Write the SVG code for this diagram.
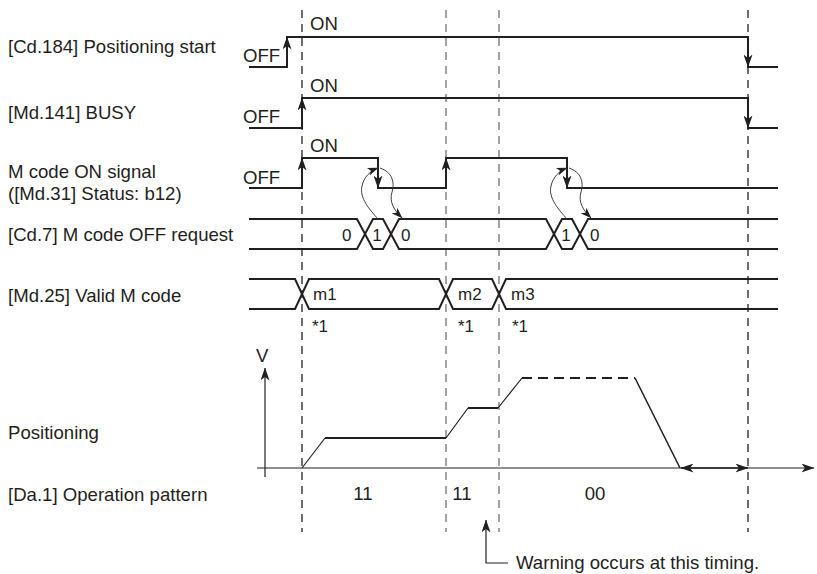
<svg xmlns="http://www.w3.org/2000/svg" width="817" height="574" viewBox="0 0 817 574">
<style>
text { font-family: "Liberation Sans", Arial, Helvetica, sans-serif; font-size: 18.6px; fill: #231f20; }
.sm { font-size: 17px; }
.mid { text-anchor: middle; }
.sig { fill: none; stroke: #231f20; stroke-width: 2; stroke-linejoin: miter; }
.edge { fill: none; stroke: #231f20; stroke-width: 2; }
.thin { fill: none; stroke: #231f20; stroke-width: 1.2; }
.thick { fill: none; stroke: #231f20; stroke-width: 2; }
.dash { fill: none; stroke: #231f20; stroke-width: 2; stroke-dasharray: 10 6; }
.curve { fill: none; stroke: #3c3c3c; stroke-width: 1; }
.dk { fill: none; stroke: #231f20; stroke-width: 1.3; stroke-dasharray: 8 6; }
.gr { fill: none; stroke: #8c8c8c; stroke-width: 1.6; stroke-dasharray: 8 6; }
</style>
<defs>
<marker id="ah" viewBox="0 0 13 9" refX="12.5" refY="4.5" markerWidth="13" markerHeight="9" markerUnits="userSpaceOnUse" orient="auto">
<path d="M0,0 L13,4.5 L0,9 L3.5,4.5 z" fill="#231f20"/>
</marker>
<marker id="ahs" viewBox="0 0 11 8" refX="10.5" refY="4" markerWidth="11" markerHeight="8" markerUnits="userSpaceOnUse" orient="auto">
<path d="M0,0 L11,4 L0,8 L3,4 z" fill="#231f20"/>
</marker>
</defs>
<rect width="817" height="574" fill="#ffffff"/>

<g id="timing-lines">
<line class="dk" x1="302" y1="10" x2="302" y2="532"/>
<line class="gr" x1="446" y1="10" x2="446" y2="532"/>
<line class="gr" x1="499" y1="10" x2="499" y2="532"/>
<line class="dk" x1="748" y1="10" x2="748" y2="532"/>
</g>

<g id="labels">
<text x="8" y="53">[Cd.184] Positioning start</text>
<text x="8" y="119">[Md.141] BUSY</text>
<text x="8" y="178">M code ON signal</text>
<text x="8" y="200">([Md.31] Status: b12)</text>
<text x="8" y="241">[Cd.7] M code OFF request</text>
<text x="8" y="302">[Md.25] Valid M code</text>
<text x="8" y="439">Positioning</text>
<text x="8" y="501">[Da.1] Operation pattern</text>
</g>

<g id="sig-cd184">
<polyline class="sig" points="249,67 287,67 287,37 748,37 748,67 778,67"/>
<line class="edge" x1="287" y1="67" x2="287" y2="37" marker-end="url(#ah)"/>
<line class="edge" x1="748" y1="37" x2="748" y2="67" marker-end="url(#ah)"/>
<text x="310" y="30">ON</text>
<text x="243" y="62">OFF</text>
</g>

<g id="sig-md141">
<polyline class="sig" points="249,128 302,128 302,98 748,98 748,128 778,128"/>
<line class="edge" x1="302" y1="128" x2="302" y2="98" marker-end="url(#ah)"/>
<line class="edge" x1="748" y1="98" x2="748" y2="128" marker-end="url(#ah)"/>
<text x="310" y="92">ON</text>
<text x="243" y="123">OFF</text>
</g>

<g id="sig-mcode-on">
<polyline class="sig" points="249,188 302,188 302,158 378,158 378,188 446,188 446,158 567,158 567,188 778,188"/>
<line class="edge" x1="302" y1="188" x2="302" y2="158" marker-end="url(#ah)"/>
<line class="edge" x1="378" y1="158" x2="378" y2="188" marker-end="url(#ah)"/>
<line class="edge" x1="446" y1="188" x2="446" y2="158" marker-end="url(#ah)"/>
<line class="edge" x1="567" y1="158" x2="567" y2="188" marker-end="url(#ah)"/>
<text x="310" y="152">ON</text>
<text x="243" y="184">OFF</text>
</g>

<g id="sig-cd7">
<polyline class="sig" points="249,219 357,219 373,249 383,249 399,219 546,219 562,249 572,249 588,219 778,219"/>
<polyline class="sig" points="249,249 357,249 373,219 383,219 399,249 546,249 562,219 572,219 588,249 778,249"/>
<text class="sm" x="342" y="241">0</text>
<text class="sm mid" x="377" y="241">1</text>
<text class="sm" x="401" y="241">0</text>
<text class="sm mid" x="566" y="241">1</text>
<text class="sm" x="590" y="241">0</text>
</g>

<g id="sig-md25">
<polyline class="sig" points="249,279 295,279 309,309 439,309 453,279 492,279 506,309 778,309"/>
<polyline class="sig" points="249,309 295,309 309,279 439,279 453,309 492,309 506,279 778,279"/>
<text class="sm" x="313" y="300">m1</text>
<text class="sm" x="458" y="300">m2</text>
<text class="sm" x="511" y="300">m3</text>
<text class="sm" x="312" y="332">*1</text>
<text class="sm" x="458" y="332">*1</text>
<text class="sm" x="512" y="332">*1</text>
</g>

<g id="connectors">
<path class="curve" d="M378,219 C370,210 359,198 362,186 C364,177 370,171 378,168" marker-end="url(#ahs)"/>
<path class="curve" d="M380,168 C392,172 395,182 392,192 C389,202 394,210 402,218" marker-end="url(#ahs)"/>
<g transform="translate(189,0)">
<path class="curve" d="M378,219 C370,210 359,198 362,186 C364,177 370,171 378,168" marker-end="url(#ahs)"/>
<path class="curve" d="M380,168 C392,172 395,182 392,192 C389,202 394,210 402,218" marker-end="url(#ahs)"/>
</g>
</g>

<g id="positioning-graph">
<line class="thin" x1="265" y1="477" x2="265" y2="368" marker-end="url(#ah)"/>
<text x="256" y="362">V</text>
<line class="thin" x1="257" y1="468" x2="814" y2="468" marker-end="url(#ah)"/>
<line class="thin" x1="748" y1="468" x2="681" y2="468" marker-end="url(#ah)"/>
<line class="thin" x1="681" y1="468" x2="748" y2="468" marker-end="url(#ah)"/>
<line class="thin" x1="302" y1="468" x2="325" y2="438"/>
<line class="thick" x1="325" y1="438" x2="446" y2="438"/>
<line class="thin" x1="446" y1="438" x2="468" y2="408"/>
<line class="thick" x1="468" y1="408" x2="498" y2="408"/>
<line class="thin" x1="498" y1="408" x2="522" y2="378"/>
<line class="dash" x1="522" y1="378" x2="635" y2="378"/>
<line class="thin" x1="635" y1="378" x2="680" y2="468" style="stroke-width:1.5"/>
</g>

<g id="operation-pattern">
<text class="mid" x="363" y="500">11</text>
<text class="mid" x="462" y="500">11</text>
<text class="mid" x="595" y="500">00</text>
</g>

<g id="warning-note">
<polyline class="thin" points="508,563 486,563 486,520" marker-end="url(#ah)"/>
<text x="516" y="569">Warning occurs at this timing.</text>
</g>
</svg>
